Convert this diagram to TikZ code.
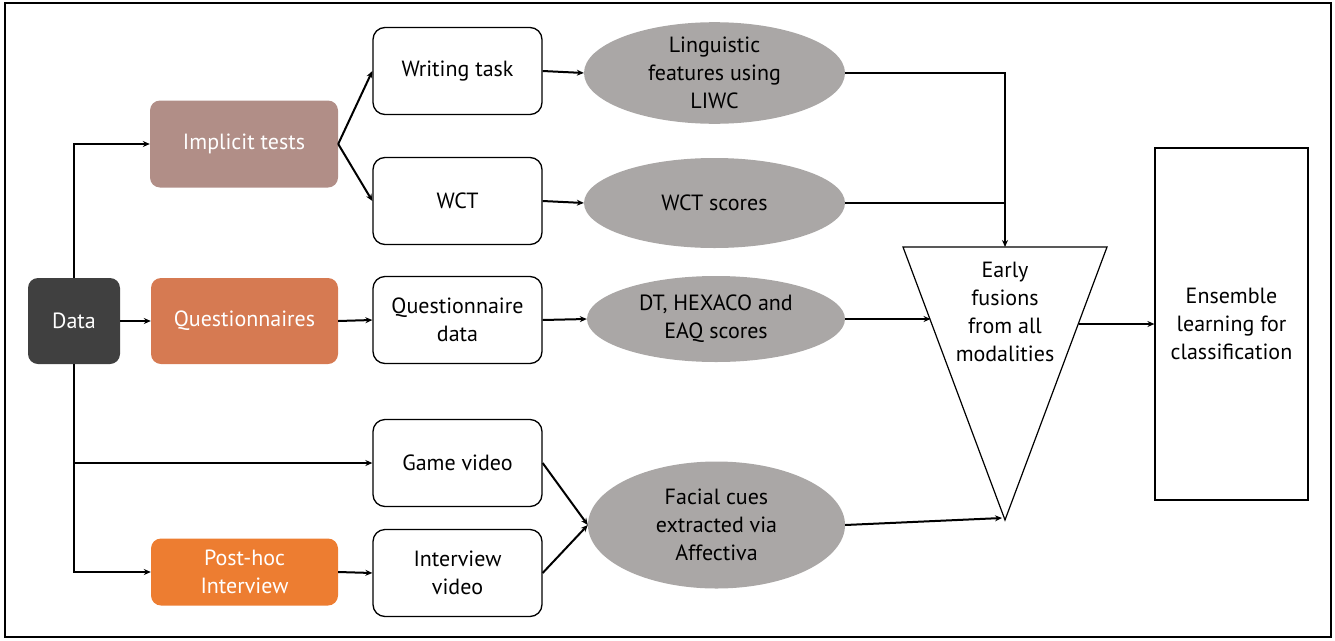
\documentclass[tikz,border=0pt]{standalone}
\usepackage{fontspec}
\setmainfont{PT Sans}
\usetikzlibrary{arrows.meta,shapes.geometric,calc}
\definecolor{cdata}{HTML}{404040}
\definecolor{cimp}{HTML}{B18E87}
\definecolor{cques}{HTML}{D67A52}
\definecolor{cpost}{HTML}{ED7D31}
\definecolor{cell}{HTML}{AAA7A6}
\tikzset{
  txt/.style={font=\fontsize{22}{28}\selectfont, align=center},
  srcbox/.style={txt, rounded corners=10pt, text=white, inner sep=0pt},
  wbox/.style={txt, draw=black, line width=1.3pt, fill=white, rounded corners=12pt, minimum width=169pt, minimum height=87pt, inner sep=0pt},
  feat/.style={txt, ellipse, fill=cell, inner sep=0pt},
  conn/.style={line width=2pt, -{Stealth[length=7pt,width=6pt]}},
  plain/.style={line width=2pt}
}
\begin{document}
\begin{tikzpicture}[x=1pt,y=-1pt]
\useasboundingbox (0,0) rectangle (1335,640);
\draw[line width=1.5pt] (5,3) rectangle (1331,637);
% source boxes
\node[srcbox, fill=cdata, minimum width=92pt, minimum height=86pt] (data) at (74,321) {Data};
\node[srcbox, fill=cimp, minimum width=188pt, minimum height=87pt] (imp) at (244,144) {Implicit tests};
\node[srcbox, fill=cques, minimum width=187pt, minimum height=86pt] (ques) at (244.5,321) {Questionnaires};
\node[srcbox, fill=cpost, minimum width=187pt, minimum height=67pt] (post) at (244.5,572) {Post-hoc\\Interview};
% white boxes
\node[wbox] (write) at (457.5,71) {Writing task};
\node[wbox] (wct) at (457.5,201) {WCT};
\node[wbox] (qdata) at (457.5,320) {Questionnaire\\data};
\node[wbox] (game) at (457.5,463) {Game video};
\node[wbox] (inter) at (457.5,573) {Interview\\video};
% ellipses
\node[feat, minimum width=261pt, minimum height=90pt] (ling) at (714.5,73) {Linguistic\\features using\\LIWC};
\node[feat, minimum width=261pt, minimum height=90pt] (wcts) at (714.5,203) {WCT scores};
\node[feat, minimum width=258pt, minimum height=86pt] (dt) at (716,319) {DT, HEXACO and\\EAQ scores};
\node[feat, minimum width=257pt, minimum height=127pt] (face) at (716.5,525) {Facial cues\\extracted via\\Affectiva};
% fusion triangle
\coordinate (tl) at (903,247);
\coordinate (tr) at (1107,247);
\coordinate (tapex) at (1005,520);
\draw[line width=1.2pt, fill=white] (tl) -- (tr) -- (tapex) -- cycle;
\node[txt] (fus) at (1005,312) {Early\\fusions\\from all\\modalities};
\coordinate (ttop) at (1005,247);
\coordinate (tleft) at ($(tl)!0.27!(tapex)$);
\coordinate (tright) at ($(tr)!0.27!(tapex)$);
\coordinate (tlow) at (1002,518);
% ensemble
\node[txt, draw=black, line width=1.2pt, minimum width=153pt, minimum height=352pt, inner sep=0pt] (ens) at (1231.5,324) {Ensemble\\learning for\\classification};
% connectors from data
\coordinate (jgame) at (data.south |- game.west);
\draw[conn] (data.north) |- (imp.west);
\draw[conn] (data.east) -- (ques.west);
\draw[conn] (data.south) |- (post.west);
\draw[conn] (jgame) -- (game.west);
% implicit
\draw[conn] (imp.east) -- (write.west);
\draw[conn] (imp.east) -- (wct.west);
\draw[conn] (ques.east) -- (qdata.west);
\draw[conn] (post.east) -- (inter.west);
% to ellipses
\draw[conn] (write.east) -- (ling.west);
\draw[conn] (wct.east) -- (wcts.west);
\draw[conn] (qdata.east) -- (dt.west);
\draw[conn] (game.east) -- (face.west);
\draw[conn] (inter.east) -- (face.west);
% to fusion
\coordinate (jw) at (ttop |- wcts.east);
\draw[conn] (ling.east) -| (ttop);
\draw[plain] (wcts.east) -- (jw);
\draw[conn] (dt.east) -- (tleft |- dt.east);
\draw[conn] (face.east) -- (tlow);
\draw[conn] (tright |- ens.west) -- (ens.west);
\end{tikzpicture}
\end{document}
